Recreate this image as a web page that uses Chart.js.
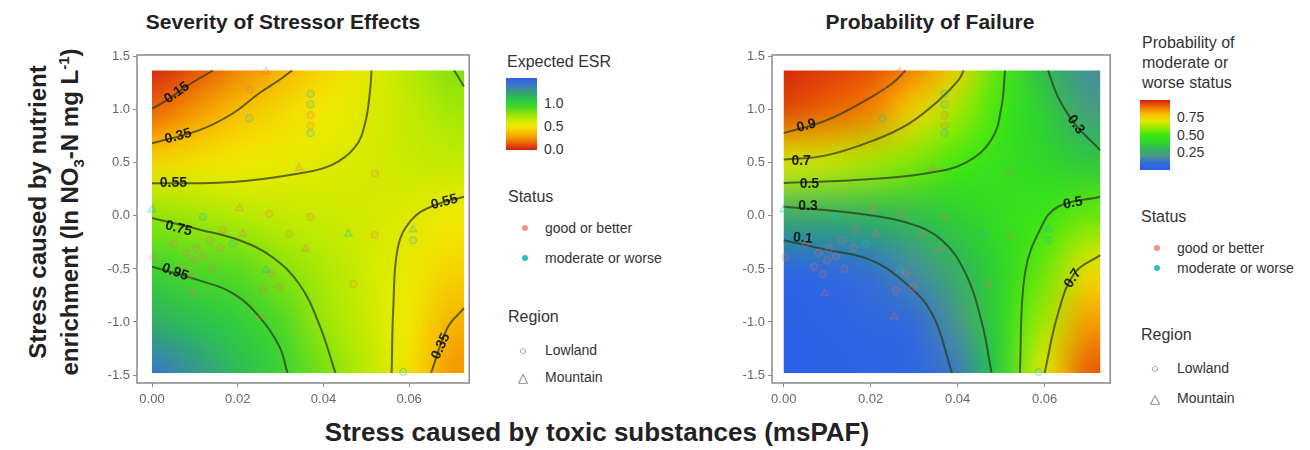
<!DOCTYPE html>
<html>
<head>
<meta charset="utf-8">
<script src="https://cdn.jsdelivr.net/npm/chart.js@4.4.1/dist/chart.umd.min.js"></script>
<style>
body { margin: 0; width: 1310px; height: 450px; background: #fff; position: relative; overflow: hidden;
       font-family: "Liberation Sans", Arial, sans-serif; color: #2a2a2a; }
.abs { position: absolute; white-space: nowrap; }
.title { font-weight: bold; font-size: 21px; color: #222; transform: translate(-50%, -50%); }
.ytitle { font-weight: bold; font-size: 24px; color: #222; transform: translate(-50%, -50%) rotate(-90deg); }
.lgTitle { font-size: 16px; color: #333; line-height: 20px; }
.lgText { font-size: 14px; color: #333; transform: translateY(-50%); }
.bar { position: absolute; }
.dot { position: absolute; width: 6px; height: 6px; border-radius: 50%; transform: translate(-50%, -50%); }
.sym { font-size: 13px; color: #555; transform: translate(-50%, -50%); }
</style>
</head>
<body>

<div class="abs title" style="left:283px; top:22px;">Severity of Stressor Effects</div>
<div class="abs title" style="left:930px; top:22px;">Probability of Failure</div>
<div class="abs ytitle" style="left:38px; top:212px;">Stress caused by nutrient</div>
<div class="abs ytitle" style="left:71px; top:212px;">enrichment (ln NO<sub style="font-size:15px">3</sub>-N mg L<sup style="font-size:15px">-1</sup>)</div>
<div class="abs title" style="left:597px; top:432px; font-size:26px;">Stress caused by toxic substances (msPAF)</div>

<div class="abs" style="left:95px; top:0;"><canvas id="esrChart" width="380" height="450"></canvas></div>
<div class="abs" style="left:730px; top:0;"><canvas id="probChart" width="386" height="450"></canvas></div>

<!-- left legend -->
<div class="abs lgTitle" style="left:507px; top:52px;">Expected ESR</div>
<div class="bar" id="esrBar" style="left:506px; top:78px; width:31px; height:72px;"></div>
<div class="abs lgText" style="left:544px; top:103px;">1.0</div>
<div class="abs lgText" style="left:544px; top:126px;">0.5</div>
<div class="abs lgText" style="left:544px; top:149px;">0.0</div>
<div class="abs lgTitle" style="left:508px; top:187px;">Status</div>
<div class="dot" style="left:525px; top:228px; background:rgba(240,120,110,0.8);"></div>
<div class="abs lgText" style="left:545px; top:228px;">good or better</div>
<div class="dot" style="left:525px; top:258px; background:rgba(20,185,200,0.9);"></div>
<div class="abs lgText" style="left:545px; top:258px;">moderate or worse</div>
<div class="abs lgTitle" style="left:508px; top:307px;">Region</div>
<div class="abs sym" style="left:523px; top:350px;">○</div>
<div class="abs lgText" style="left:545px; top:350px;">Lowland</div>
<div class="abs sym" style="left:523px; top:377px;">△</div>
<div class="abs lgText" style="left:545px; top:377px;">Mountain</div>

<!-- right legend -->
<div class="abs lgTitle" style="left:1142px; top:33px;">Probability of<br>moderate or<br>worse status</div>
<div class="bar" id="probBar" style="left:1140px; top:100px; width:30px; height:70px;"></div>
<div class="abs lgText" style="left:1177px; top:117px;">0.75</div>
<div class="abs lgText" style="left:1177px; top:135px;">0.50</div>
<div class="abs lgText" style="left:1177px; top:152px;">0.25</div>
<div class="abs lgTitle" style="left:1141px; top:207px;">Status</div>
<div class="dot" style="left:1157px; top:248px; background:rgba(240,120,110,0.8);"></div>
<div class="abs lgText" style="left:1177px; top:248px;">good or better</div>
<div class="dot" style="left:1157px; top:268px; background:rgba(20,185,200,0.9);"></div>
<div class="abs lgText" style="left:1177px; top:268px;">moderate or worse</div>
<div class="abs lgTitle" style="left:1141px; top:325px;">Region</div>
<div class="abs sym" style="left:1155px; top:368px;">○</div>
<div class="abs lgText" style="left:1177px; top:368px;">Lowland</div>
<div class="abs sym" style="left:1155px; top:398px;">△</div>
<div class="abs lgText" style="left:1177px; top:398px;">Mountain</div>

<script>
// ---- axes ----
const xTicks = [0, 0.02, 0.04, 0.06];
const yTicks = [-1.5, -1.0, -0.5, 0, 0.5, 1.0, 1.5];

// ---- model surface (rows top -> bottom) ----
const gridX = [0, 0.01, 0.02, 0.03, 0.04, 0.05, 0.06, 0.07];
const gridY = [1.5, 1.0, 0.5, 0, -0.5, -1.0, -1.5];
const rasterX = [0, 0.0728];
const rasterY = [-1.48, 1.37];

const esrGrid = [
  [0.00, 0.08, 0.19, 0.30, 0.42, 0.54, 0.66, 0.78],
  [0.15, 0.25, 0.36, 0.44, 0.50, 0.55, 0.63, 0.70],
  [0.45, 0.48, 0.50, 0.52, 0.55, 0.58, 0.62, 0.63],
  [0.74, 0.70, 0.66, 0.63, 0.61, 0.59, 0.55, 0.50],
  [0.95, 0.88, 0.86, 0.76, 0.68, 0.60, 0.52, 0.43],
  [1.15, 1.08, 1.00, 0.89, 0.72, 0.62, 0.50, 0.33],
  [1.38, 1.25, 1.10, 0.96, 0.80, 0.65, 0.48, 0.25]
];

const probGrid = [
  [0.99, 0.97, 0.95, 0.90, 0.76, 0.53, 0.30, 0.18],
  [0.95, 0.92, 0.88, 0.75, 0.62, 0.50, 0.37, 0.22],
  [0.68, 0.66, 0.62, 0.57, 0.51, 0.45, 0.40, 0.36],
  [0.27, 0.28, 0.30, 0.33, 0.38, 0.44, 0.49, 0.55],
  [0.05, 0.07, 0.11, 0.18, 0.29, 0.40, 0.55, 0.72],
  [0.02, 0.03, 0.05, 0.08, 0.20, 0.40, 0.62, 0.84],
  [0.01, 0.02, 0.03, 0.05, 0.13, 0.38, 0.70, 0.93]
];

// ---- contour lines (x, y) ----
const esrContour015 = [[0, 1.01], [0.0035, 1.09], [0.008, 1.22], [0.0142, 1.37]];
const esrContour035 = [[0, 0.684], [0.0112, 0.81], [0.0189, 0.967], [0.025, 1.156], [0.0297, 1.28], [0.0327, 1.37]];
const esrContour055 = [[0, 0.307], [0.0189, 0.32], [0.0343, 0.40], [0.042, 0.48], [0.0474, 0.65], [0.0497, 0.87], [0.0509, 1.19], [0.0512, 1.37]];
const esrContour075 = [[0, -0.02], [0.0112, -0.13], [0.0204, -0.23], [0.0281, -0.39], [0.0343, -0.64], [0.0389, -1.01], [0.0428, -1.48]];
const esrContour095 = [[0, -0.48], [0.0112, -0.61], [0.0189, -0.73], [0.025, -0.95], [0.0297, -1.23], [0.0316, -1.48]];
const esrContour055b = [[0.0559, -1.48], [0.0563, -0.86], [0.0574, -0.29], [0.0605, -0.04], [0.0651, 0.086], [0.0728, 0.18]];
const esrContour035b = [[0.0651, -1.48], [0.069, -1.05], [0.0728, -0.87]];
const esrContour075b = [[0.0705, 1.37], [0.0728, 1.22]];

const probContour09 = [[0, 0.78], [0.0098, 0.90], [0.0189, 1.09], [0.025, 1.25], [0.028, 1.37]];
const probContour07 = [[0, 0.53], [0.0098, 0.57], [0.0212, 0.72], [0.0288, 0.87], [0.0357, 1.09], [0.0402, 1.28], [0.0414, 1.37]];
const probContour05 = [[0, 0.31], [0.0174, 0.34], [0.0326, 0.40], [0.0418, 0.50], [0.0478, 0.72], [0.0501, 1.03], [0.0509, 1.37]];
const probContour03 = [[0, 0.086], [0.0174, 0.02], [0.0288, -0.07], [0.0364, -0.23], [0.0418, -0.54], [0.0456, -1.01], [0.0478, -1.48]];
const probContour01 = [[0, -0.23], [0.0098, -0.32], [0.0197, -0.41], [0.0273, -0.61], [0.0341, -0.92], [0.0387, -1.48]];
const probContour05b = [[0.0543, -1.48], [0.0555, -0.54], [0.0593, -0.10], [0.0631, 0.086], [0.0728, 0.18]];
const probContour07b = [[0.060, -1.48], [0.0631, -0.92], [0.0669, -0.54], [0.0728, -0.37]];
const probContour03b = [[0.0608, 1.37], [0.0631, 1.12], [0.0669, 0.87], [0.0728, 0.62]];

// contour labels: text, x, y, angle (deg)
const esrLabels = [
  ['0.15', 0.0058, 1.16, -35], ['0.35', 0.0061, 0.75, -15], ['0.55', 0.005, 0.31, 0],
  ['0.75', 0.0062, -0.12, 15], ['0.95', 0.0054, -0.53, 20], ['0.55', 0.0682, 0.13, -15],
  ['0.35', 0.0674, -1.23, -65]
];
const probLabels = [
  ['0.9', 0.0052, 0.85, -15], ['0.7', 0.004, 0.52, 0], ['0.5', 0.0059, 0.30, 0],
  ['0.3', 0.0056, 0.09, 0], ['0.1', 0.0044, -0.21, 5], ['0.3', 0.0672, 0.86, 55],
  ['0.5', 0.0665, 0.12, -10], ['0.7', 0.0665, -0.59, -55]
];

// ---- sites ----
const siteX = [0.000, 0.0266, 0.0227, 0.0227, 0.037, 0.037, 0.037, 0.037, 0.037, 0.0343, 0.052, 0.0119, 0.0204, 0.0273,
  0.037, 0.0458, 0.052, 0.0609, 0.0609, 0.0104, 0.0135, 0.0189, 0.032, 0.0358, 0.0266, 0.0297, 0.047, 0.0586, 0.0004,
  0.005, 0.008, 0.010, 0.012, 0.007, 0.014, 0.009, 0.016, 0.0094, 0.0254, 0.0258, 0.028, 0.0166, 0.0212];
const siteY = [0.06, 1.36, 1.19, 0.92, 1.15, 1.05, 0.95, 0.85, 0.78, 0.45, 0.40, -0.01, 0.07, 0.02,
  -0.01, -0.17, -0.18, -0.13, -0.23, -0.31, -0.23, -0.26, -0.17, -0.31, -0.51, -0.67, -0.64, -1.47, -0.39,
  -0.26, -0.35, -0.42, -0.38, -0.48, -0.50, -0.55, -0.30, -0.73, -0.95, -0.70, -0.54, -0.13, -0.17];
const siteStatus = ['M', 'G', 'G', 'M', 'M', 'M', 'G', 'G', 'M', 'G', 'G', 'M', 'G', 'G',
  'G', 'M', 'G', 'M', 'M', 'G', 'G', 'M', 'G', 'G', 'M', 'G', 'G', 'M', 'G',
  'G', 'G', 'G', 'G', 'G', 'G', 'G', 'G', 'G', 'G', 'G', 'G', 'G', 'G'];
const siteRegion = ['Mt', 'Mt', 'L', 'L', 'L', 'L', 'L', 'L', 'L', 'Mt', 'L', 'L', 'Mt', 'L',
  'L', 'Mt', 'L', 'Mt', 'L', 'L', 'L', 'L', 'L', 'Mt', 'Mt', 'L', 'L', 'L', 'L',
  'L', 'L', 'L', 'L', 'L', 'L', 'L', 'L', 'Mt', 'Mt', 'L', 'L', 'L', 'Mt'];

// ---- palettes ----
const esrStops = [[0.0, [205, 30, 20]], [0.12, [232, 85, 10]], [0.25, [245, 150, 0]], [0.4, [247, 205, 0]],
  [0.5, [240, 232, 0]], [0.62, [200, 235, 0]], [0.75, [140, 228, 10]], [0.9, [70, 215, 40]],
  [1.05, [40, 200, 70]], [1.2, [55, 160, 120]], [1.35, [60, 120, 200]], [1.5, [45, 95, 230]]];
const probStops = [[0.0, [40, 95, 235]], [0.1, [50, 110, 215]], [0.2, [75, 150, 140]], [0.3, [50, 180, 90]],
  [0.4, [45, 215, 40]], [0.5, [60, 230, 20]], [0.6, [150, 232, 0]], [0.7, [230, 232, 0]],
  [0.8, [250, 185, 0]], [0.9, [240, 115, 0]], [1.0, [210, 30, 15]]];

function colorAt(stops, v) {
  if (v <= stops[0][0]) return stops[0][1];
  for (let i = 1; i < stops.length; i++) {
    if (v <= stops[i][0]) {
      const a = stops[i - 1], b = stops[i];
      const f = (v - a[0]) / (b[0] - a[0]);
      return a[1].map((c, k) => Math.round(c + (b[1][k] - c) * f));
    }
  }
  return stops[stops.length - 1][1];
}

function barGradient(el, stops, lo, hi) {
  const parts = stops.filter(s => s[0] >= lo && s[0] <= hi)
    .map(s => `rgb(${s[1].join(',')}) ${((s[0] - lo) / (hi - lo) * 100).toFixed(1)}%`);
  el.style.background = `linear-gradient(to top, ${parts.join(', ')})`;
}
barGradient(document.getElementById('esrBar'), esrStops, 0, 1.5);
barGradient(document.getElementById('probBar'), probStops, 0, 1.0);

// heatmap: colour each grid node, let the canvas smooth between them
const heatmapPlugin = {
  id: 'heatmap',
  beforeDatasetsDraw(chart, args, opts) {
    const { ctx, scales: { x, y } } = chart;
    const nx = gridX.length, ny = gridY.length;
    const off = document.createElement('canvas');
    off.width = nx; off.height = ny;
    const octx = off.getContext('2d');
    const img = octx.createImageData(nx, ny);
    for (let j = 0; j < ny; j++) {
      for (let i = 0; i < nx; i++) {
        const c = colorAt(opts.stops, opts.grid[j][i]);
        const p = (j * nx + i) * 4;
        img.data[p] = c[0]; img.data[p + 1] = c[1]; img.data[p + 2] = c[2]; img.data[p + 3] = 255;
      }
    }
    octx.putImageData(img, 0, 0);
    const dx = gridX[1] - gridX[0], dy = gridY[0] - gridY[1];
    const left = x.getPixelForValue(gridX[0] - dx / 2), right = x.getPixelForValue(gridX[nx - 1] + dx / 2);
    const top = y.getPixelForValue(gridY[0] + dy / 2), bottom = y.getPixelForValue(gridY[ny - 1] - dy / 2);
    const cl = x.getPixelForValue(rasterX[0]), cr = x.getPixelForValue(rasterX[1]);
    const ct = y.getPixelForValue(rasterY[1]), cb = y.getPixelForValue(rasterY[0]);
    ctx.save();
    ctx.beginPath();
    ctx.rect(cl, ct, cr - cl, cb - ct);
    ctx.clip();
    ctx.imageSmoothingEnabled = true;
    ctx.imageSmoothingQuality = 'high';
    ctx.drawImage(off, left, top, right - left, bottom - top);
    ctx.restore();
  }
};

const contourLabelPlugin = {
  id: 'contourLabels',
  afterDatasetsDraw(chart, args, opts) {
    const { ctx, scales: { x, y } } = chart;
    ctx.save();
    ctx.font = 'bold 14px "Liberation Sans", Arial, sans-serif';
    ctx.textAlign = 'center';
    ctx.textBaseline = 'middle';
    ctx.fillStyle = 'rgba(10,15,5,0.9)';
    opts.labels.forEach(([t, lx, ly, ang]) => {
      ctx.save();
      ctx.translate(x.getPixelForValue(lx), y.getPixelForValue(ly));
      ctx.rotate(ang * Math.PI / 180);
      ctx.fillText(t, 0, 0);
      ctx.restore();
    });
    ctx.restore();
  }
};

const framePlugin = {
  id: 'frame',
  afterDraw(chart) {
    const { ctx, chartArea: a } = chart;
    ctx.save();
    ctx.strokeStyle = '#8a8a8a';
    ctx.lineWidth = 1.5;
    ctx.strokeRect(a.left, a.top, a.right - a.left, a.bottom - a.top);
    ctx.restore();
  }
};

function contourSet(pts) {
  return {
    type: 'scatter', showLine: true, tension: 0.4, pointRadius: 0,
    borderColor: 'rgba(45,55,25,0.72)', borderWidth: 2,
    data: pts.map(p => ({ x: p[0], y: p[1] }))
  };
}

function siteSets() {
  const out = [];
  [['G', 'rgba(240,110,100,0.3)'], ['M', 'rgba(20,185,200,0.35)']].forEach(([st, col]) => {
    [['L', 'circle', 3.5], ['Mt', 'triangle', 4.5]].forEach(([rg, shape, r]) => {
      const data = [];
      siteX.forEach((v, i) => {
        if (siteStatus[i] === st && siteRegion[i] === rg) data.push({ x: v, y: siteY[i] });
      });
      out.push({ type: 'scatter', data, pointStyle: shape, pointRadius: r, borderWidth: 1.3,
        borderColor: col, backgroundColor: col.replace(/[\d.]+\)$/, '0.1)') });
    });
  });
  return out;
}

function makeChart(id, xmin, xmax, grid, stops, contours, labels) {
  return new Chart(document.getElementById(id), {
    type: 'scatter',
    data: { datasets: [...siteSets(), ...contours.map(contourSet)] },
    options: {
      responsive: false,
      animation: false,
      devicePixelRatio: 1,
      layout: { padding: { top: 55, right: 3, bottom: 37, left: 0 } },
      plugins: {
        legend: { display: false },
        tooltip: { enabled: false },
        heatmap: { grid, stops },
        contourLabels: { labels }
      },
      scales: {
        x: {
          type: 'linear', min: xmin, max: xmax,
          afterBuildTicks: s => { s.ticks = xTicks.map(v => ({ value: v })); },
          afterFit: s => { s.height = 30; },
          ticks: { callback: v => v.toFixed(2), color: '#666', font: { size: 13 }, padding: 5, maxRotation: 0 },
          grid: { drawOnChartArea: false, tickLength: 4, color: '#888' },
          border: { display: false }
        },
        y: {
          min: -1.575, max: 1.516,
          afterBuildTicks: s => { s.ticks = yTicks.map(v => ({ value: v })); },
          afterFit: s => { s.width = 42; },
          ticks: { callback: v => v.toFixed(1), color: '#666', font: { size: 13 }, padding: 3 },
          grid: { drawOnChartArea: false, tickLength: 4, color: '#888' },
          border: { display: false }
        }
      }
    },
    plugins: [heatmapPlugin, contourLabelPlugin, framePlugin]
  });
}

makeChart('esrChart', -0.0035, 0.074, esrGrid, esrStops,
  [esrContour015, esrContour035, esrContour055, esrContour075, esrContour095, esrContour055b, esrContour035b, esrContour075b],
  esrLabels);
makeChart('probChart', -0.0027, 0.0751, probGrid, probStops,
  [probContour09, probContour07, probContour05, probContour03, probContour01, probContour05b, probContour07b, probContour03b],
  probLabels);
</script>
</body>
</html>
